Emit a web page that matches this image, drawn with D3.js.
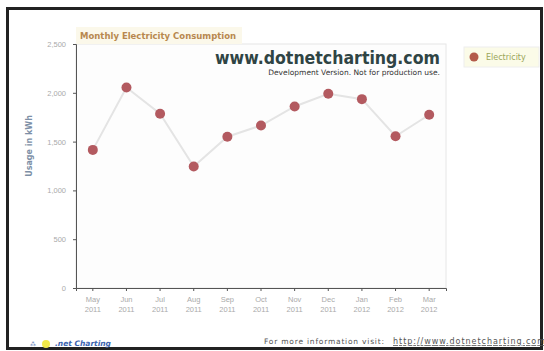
<!DOCTYPE html>
<html>
<head>
<meta charset="utf-8">
<script src="https://cdn.jsdelivr.net/npm/d3@7"></script>
<style>
  body { margin: 0; background: #fff; }
  svg { display: block; font-family: "DejaVu Sans", sans-serif; }
</style>
</head>
<body>
<div id="chart"></div>
<script>
const months = ["May", "Jun", "Jul", "Aug", "Sep", "Oct", "Nov", "Dec", "Jan", "Feb", "Mar"];
const years = ["2011", "2011", "2011", "2011", "2011", "2011", "2011", "2011", "2012", "2012", "2012"];
const usage = [1415, 2055, 1785, 1245, 1550, 1665, 1860, 1990, 1935, 1555, 1775];
const yTicks = [0, 500, 1000, 1500, 2000, 2500];

const W = 544, H = 351;
const margin = {top: 44, right: 98, bottom: 63, left: 76};
const width = W - margin.left - margin.right;
const height = H - margin.top - margin.bottom;

const svg = d3.select("#chart").append("svg")
    .attr("width", W)
    .attr("height", H);

// outer frame
svg.append("rect")
    .attr("x", 7.5).attr("y", 8.5)
    .attr("width", 534).attr("height", 340)
    .attr("fill", "#fff")
    .attr("stroke", "#222")
    .attr("stroke-width", 3);

const g = svg.append("g")
    .attr("transform", `translate(${margin.left},${margin.top})`);

const x = d3.scaleBand()
    .domain(months.map((m, i) => i))
    .range([0, width]);

const y = d3.scaleLinear()
    .domain([0, 2500])
    .range([height, 0]);

// plot background
g.append("rect")
    .attr("width", width).attr("height", height)
    .attr("fill", "#fdfdfd")
    .attr("stroke", "#e6e6e6");

// title box
g.append("rect")
    .attr("x", 0).attr("y", -17)
    .attr("width", 166).attr("height", 17)
    .attr("fill", "#fbf8ea");
g.append("text")
    .attr("x", 4).attr("y", -5)
    .attr("fill", "#b8884f")
    .attr("font-size", 8.5)
    .attr("font-weight", "bold")
    .text("Monthly Electricity Consumption");

// axes
const yAxis = g.append("g")
    .call(d3.axisLeft(y).tickValues(yTicks).tickFormat(d3.format(",")).tickSize(3).tickPadding(7));
yAxis.select(".domain").attr("stroke", "#555");
yAxis.selectAll(".tick line").attr("stroke", "#555");
yAxis.selectAll("text").attr("fill", "#aaa").attr("font-size", 7.5);

const xAxis = g.append("g")
    .attr("transform", `translate(0,${height})`)
    .call(d3.axisBottom(x).tickSize(3).tickFormat(() => ""));
xAxis.select(".domain").attr("stroke", "#555");
xAxis.selectAll(".tick line").attr("stroke", "#555");
xAxis.selectAll(".tick").each(function (d) {
    const t = d3.select(this).append("text")
        .attr("fill", "#aaa")
        .attr("font-size", 7.5)
        .attr("text-anchor", "middle");
    t.append("tspan").attr("x", 0).attr("y", 14).text(months[d]);
    t.append("tspan").attr("x", 0).attr("y", 24).text(years[d]);
});

// y axis title
g.append("text")
    .attr("transform", `translate(-44,${height / 2 - 20}) rotate(-90)`)
    .attr("text-anchor", "middle")
    .attr("fill", "#7d8fa6")
    .attr("font-size", 8)
    .attr("font-weight", "bold")
    .text("Usage in kWh");

// watermark
g.append("text")
    .attr("x", width - 6).attr("y", 20)
    .attr("text-anchor", "end")
    .attr("fill", "#2f4444")
    .attr("font-size", 17)
    .attr("font-weight", "bold")
    .attr("textLength", 225)
    .attr("lengthAdjust", "spacingAndGlyphs")
    .text("www.dotnetcharting.com");
g.append("text")
    .attr("x", width - 6).attr("y", 31)
    .attr("text-anchor", "end")
    .attr("fill", "#333")
    .attr("font-size", 7.5)
    .text("Development Version. Not for production use.");

// series
const line = d3.line()
    .x((d, i) => x(i) + x.bandwidth() / 2)
    .y(d => y(d));

g.append("path")
    .datum(usage)
    .attr("d", line)
    .attr("fill", "none")
    .attr("stroke", "#e4e4e4")
    .attr("stroke-width", 2);

g.selectAll(".dot")
    .data(usage)
    .enter()
    .append("circle")
    .attr("class", "dot")
    .attr("cx", (d, i) => x(i) + x.bandwidth() / 2)
    .attr("cy", d => y(d))
    .attr("r", 5)
    .attr("fill", "#b35a60");

// legend
const lg = svg.append("g").attr("transform", "translate(464,47)");
lg.append("rect")
    .attr("width", 75).attr("height", 20)
    .attr("fill", "#fbfbe8")
    .attr("stroke", "#eee");
lg.append("circle")
    .attr("cx", 10).attr("cy", 10).attr("r", 4.5)
    .attr("fill", "#b35a4a");
lg.append("text")
    .attr("x", 22).attr("y", 13)
    .attr("fill", "#9aa55a")
    .attr("font-size", 8)
    .text("Electricity");

// footer
svg.append("circle")
    .attr("cx", 46).attr("cy", 344).attr("r", 4)
    .attr("fill", "#f2e94a");
svg.append("text")
    .attr("x", 30).attr("y", 346)
    .attr("fill", "#5a7ab5")
    .attr("font-size", 6)
    .text("⁂");
svg.append("text")
    .attr("x", 55).attr("y", 346)
    .attr("fill", "#3c64b0")
    .attr("font-size", 7.5)
    .attr("font-weight", "bold")
    .attr("font-style", "italic")
    .text(".net Charting");
svg.append("text")
    .attr("x", 264).attr("y", 344)
    .attr("fill", "#555")
    .attr("font-size", 7.5)
    .attr("textLength", 120)
    .text("For more information visit:");
svg.append("text")
    .attr("x", 393).attr("y", 344)
    .attr("fill", "#555")
    .attr("font-size", 8)
    .attr("text-decoration", "underline")
    .attr("textLength", 152)
    .text("http://www.dotnetcharting.com");
</script>
</body>
</html>
